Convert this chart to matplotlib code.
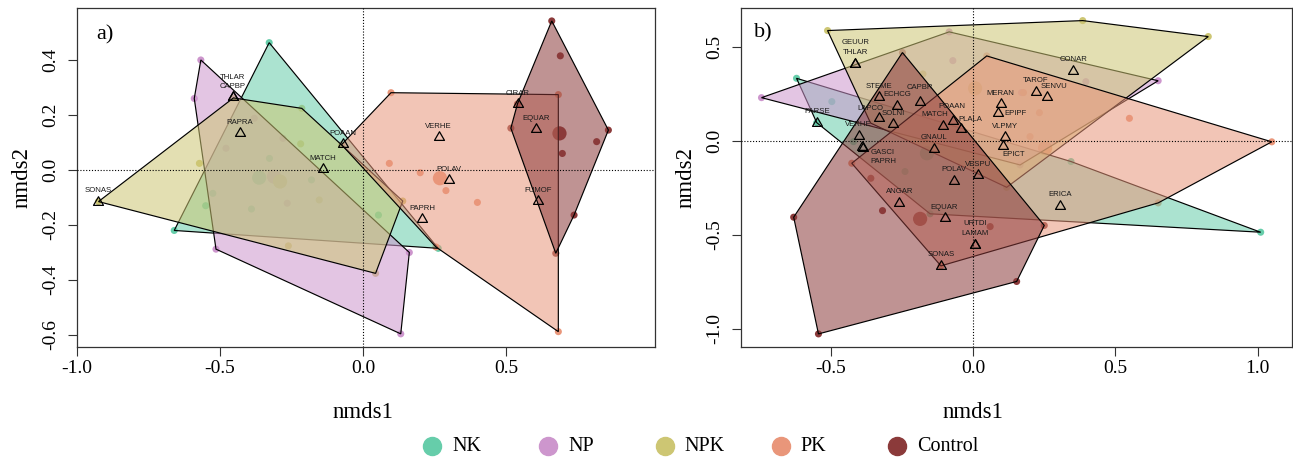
import matplotlib
matplotlib.use("Agg")
import matplotlib.pyplot as plt
from matplotlib.patches import Polygon
from matplotlib.path import Path
from matplotlib.lines import Line2D

W, H, DPI = 1293, 461, 100

groups = ["NK", "NP", "NPK", "PK", "Control"]
group_colors = ["#66CDAA", "#CD96CD", "#CDC673", "#E9967A", "#8B3A3A"]

# ---------------- panel a : site scores per treatment ----------------
a_nk_x = [-0.328, -0.660, 0.263, -0.550, -0.525, -0.390, -0.327, -0.180, 0.054]
a_nk_y = [0.463, -0.220, -0.285, -0.130, -0.085, -0.142, 0.042, -0.036, -0.164]
a_np_x = [-0.567, -0.590, -0.514, 0.132, 0.162, -0.479, -0.265, -0.380, -0.280]
a_np_y = [0.400, 0.260, -0.288, -0.596, -0.300, 0.079, -0.121, 0.188, 0.115]
a_npk_x = [-0.925, -0.453, -0.214, 0.139, 0.044, -0.218, -0.153, -0.261, -0.572]
a_npk_y = [-0.115, 0.262, 0.224, -0.113, -0.376, 0.095, -0.109, -0.276, 0.024]
a_pk_x = [0.098, 0.683, 0.683, 0.255, -0.075, 0.092, 0.200, 0.290, 0.400]
a_pk_y = [0.281, 0.274, -0.588, -0.280, 0.092, 0.024, -0.010, -0.075, -0.118]
a_ctl_x = [0.660, 0.690, 0.858, 0.817, 0.697, 0.738, 0.674, 0.517, 0.540]
a_ctl_y = [0.542, 0.415, 0.145, 0.103, 0.060, -0.164, -0.303, 0.152, 0.240]
a_cent_groups = ["NK", "NP", "NPK", "PK", "Control"]
a_cent_x = [-0.363, -0.311, -0.290, 0.269, 0.687]
a_cent_y = [-0.028, -0.024, -0.042, -0.030, 0.133]
a_species = ["THLAR", "CAPBP", "RAPRA", "POAAN", "MATCH", "SONAS",
             "CIRAR", "EQUAR", "VERHE", "POLAV", "FUMOF", "PAPRH"]
a_sp_x = [-0.456, -0.456, -0.430, -0.071, -0.139, -0.925,
          0.541, 0.604, 0.264, 0.300, 0.613, 0.206]
a_sp_y = [0.267, 0.267, 0.133, 0.093, 0.003, -0.115,
          0.239, 0.148, 0.119, -0.037, -0.113, -0.179]

# ---------------- panel b ----------------
b_nk_x = [-0.620, -0.549, -0.151, 1.010, 0.344, -0.496, -0.420, -0.239]
b_nk_y = [0.333, 0.097, -0.388, -0.486, -0.110, 0.209, -0.004, -0.163]
b_np_x = [-0.743, -0.084, 0.650, 0.165, -0.414, -0.071, 0.170, 0.396]
b_np_y = [0.230, 0.580, 0.320, -0.128, 0.405, 0.427, 0.257, 0.315]
b_npk_x = [-0.511, 0.385, 0.826, 0.118, -0.360, -0.176]
b_npk_y = [0.587, 0.640, 0.555, -0.247, 0.095, 0.356]
b_pk_x = [-0.426, 0.048, 1.049, 0.650, -0.113, 0.549, 0.233, 0.200, 0.177]
b_pk_y = [-0.119, 0.452, -0.005, -0.330, -0.665, 0.120, 0.150, 0.023, 0.257]
b_ctl_x = [-0.248, -0.630, -0.543, 0.153, 0.250, -0.318, 0.060, -0.359]
b_ctl_y = [0.470, -0.406, -1.027, -0.748, -0.450, -0.371, -0.456, -0.199]
b_cent_groups = ["NK", "NPK", "PK", "Control"]
b_cent_x = [-0.162, 0.007, 0.253, -0.186]
b_cent_y = [-0.066, 0.280, -0.039, -0.415]
b_species = ["GEUUR", "THLAR", "STEME", "ECHCG", "CAPBR", "LAPCO", "SOLNI",
             "PARSE", "VERHE", "GASCI", "PAPRH", "POAAN", "MATCH", "PLALA",
             "GNAUL", "MERAN", "EPIPF", "VLPMY", "EPICT", "POLAV", "VESPU",
             "ANGAR", "EQUAR", "URTDI", "LAMAM", "SONAS", "ERICA", "CONAR",
             "TAROF", "SENVU"]
b_sp_x = [-0.414, -0.414, -0.330, -0.268, -0.186, -0.329, -0.282,
          -0.549, -0.402, -0.390, -0.386, -0.071, -0.104, -0.042,
          -0.136, 0.097, 0.089, 0.112, 0.106, -0.066, 0.019,
          -0.259, -0.100, 0.007, 0.007, -0.113, 0.305, 0.352,
          0.220, 0.258]
b_sp_y = [0.410, 0.410, 0.233, 0.188, 0.206, 0.124, 0.089,
          0.097, 0.027, -0.034, -0.040, 0.106, 0.080, 0.062,
          -0.043, 0.195, 0.147, 0.018, -0.027, -0.213, -0.184,
          -0.328, -0.411, -0.553, -0.553, -0.665, -0.346, 0.374,
          0.262, 0.232]

# label offsets in pixels (layout only)
a_offsets = {"THLAR": (0, 19), "CAPBP": (0, 10.5)}
b_offsets = {"GEUUR": (0, 21), "THLAR": (0, 11), "URTDI": (0, 21), "LAMAM": (0, 11),
             "EPIPF": (17, 0), "EPICT": (10, -9), "GASCI": (21, -5), "PAPRH": (20, -13),
             "CAPBR": (0, 15), "LAPCO": (-9, 9), "SENVU": (7, 11), "POAAN": (-1, 14),
             "PLALA": (9, 10), "MATCH": (-9, 11)}

plt.rcParams["font.family"] = ["Liberation Serif", "DejaVu Serif"]

fig = plt.figure(figsize=(W / DPI, H / DPI), dpi=DPI)


def px_axes(left, right, top, bottom):
    return fig.add_axes([left / W, 1 - bottom / H, (right - left) / W, (bottom - top) / H])


def convex_hull(xs, ys):
    pts = sorted(set(zip(xs, ys)))
    def cross(o, a, b):
        return (a[0] - o[0]) * (b[1] - o[1]) - (a[1] - o[1]) * (b[0] - o[0])
    lower, upper = [], []
    for p in pts:
        while len(lower) >= 2 and cross(lower[-2], lower[-1], p) <= 0:
            lower.pop()
        lower.append(p)
    for p in reversed(pts):
        while len(upper) >= 2 and cross(upper[-2], upper[-1], p) <= 0:
            upper.pop()
        upper.append(p)
    return lower[:-1] + upper[:-1]


tri = Path([(0, 1.0), (-0.866, -0.5), (0.866, -0.5), (0, 1.0)],
           [Path.MOVETO, Path.LINETO, Path.LINETO, Path.CLOSEPOLY])


def draw_panel(ax, pts, cent_groups, cx, cy, species, sx, sy, offsets,
               xlim, ylim, xticks, yticks):
    cmap = dict(zip(groups, group_colors))
    for (xs, ys), c in zip(pts, group_colors):
        ax.scatter(xs, ys, s=26, color=c, edgecolors="none", zorder=2)
    for g, x, y in zip(cent_groups, cx, cy):
        ax.scatter([x], [y], s=105, color=cmap[g], edgecolors="none", zorder=2)
    for (xs, ys), c in zip(pts, group_colors):
        hull = convex_hull(xs, ys)
        ax.add_patch(Polygon(hull, closed=True, facecolor=matplotlib.colors.to_rgba(c, 0.55),
                             edgecolor="black", linewidth=0.85, zorder=3))
    ax.axhline(0, color="black", lw=0.8, ls=(0, (1, 1.6)), zorder=4)
    ax.axvline(0, color="black", lw=0.8, ls=(0, (1, 1.6)), zorder=4)
    ax.plot(sx, sy, linestyle="none", marker=tri, markersize=8.3, mfc="none",
            mec="black", mew=0.9, zorder=5)
    for name, x, y in zip(species, sx, sy):
        dx, dy = offsets.get(name, (0, 11))
        ax.annotate(name, (x, y), xytext=(dx, dy), textcoords="offset pixels",
                    ha="center", va="center", fontsize=5.6, color="#1a1a1a",
                    family=["Liberation Sans", "DejaVu Sans"], zorder=6)
    ax.set_xlim(*xlim)
    ax.set_ylim(*ylim)
    ax.set_xticks(xticks)
    ax.set_xticklabels([f"{t:.1f}" for t in xticks])
    ax.set_yticks(yticks)
    ax.set_yticklabels([f"{t:.1f}" for t in yticks], rotation=90, va="center")
    ax.tick_params(axis="both", direction="out", length=6.5, width=0.8,
                   color="#333333", labelsize=14)
    ax.tick_params(axis="x", pad=3)
    ax.tick_params(axis="y", pad=6)
    for sp in ax.spines.values():
        sp.set_color("#333333")
        sp.set_linewidth(0.9)


axa = px_axes(77, 655, 8, 346.5)
draw_panel(axa,
           [(a_nk_x, a_nk_y), (a_np_x, a_np_y), (a_npk_x, a_npk_y),
            (a_pk_x, a_pk_y), (a_ctl_x, a_ctl_y)],
           a_cent_groups, a_cent_x, a_cent_y, a_species, a_sp_x, a_sp_y, a_offsets,
           (-1.0, 1.021), (-0.642, 0.589),
           [-1.0, -0.5, 0.0, 0.5], [-0.6, -0.4, -0.2, 0.0, 0.2, 0.4])

axb = px_axes(741, 1292, 8, 346.5)
draw_panel(axb,
           [(b_nk_x, b_nk_y), (b_np_x, b_np_y), (b_npk_x, b_npk_y),
            (b_pk_x, b_pk_y), (b_ctl_x, b_ctl_y)],
           b_cent_groups, b_cent_x, b_cent_y, b_species, b_sp_x, b_sp_y, b_offsets,
           (-0.815, 1.12), (-1.094, 0.707),
           [-0.5, 0.0, 0.5, 1.0], [-1.0, -0.5, 0.0, 0.5])


def ftext(px, py, s, **kw):
    fig.text(px / W, 1 - py / H, s, ha="center", va="center", **kw)


ftext(105, 35, "a)", fontsize=16)
ftext(763, 33, "b)", fontsize=16)
ftext(363, 412, "nmds1", fontsize=16.5)
ftext(973, 412, "nmds1", fontsize=16.5)
ftext(22, 177, "nmds2", fontsize=16.5, rotation=90)
ftext(686, 177, "nmds2", fontsize=16.5, rotation=90)

# legend
for i, (g, c) in enumerate(zip(groups, group_colors)):
    cxp = 432 + i * 116.3
    fig.add_artist(Line2D([cxp / W], [1 - 446 / H], transform=fig.transFigure,
                          marker="o", markersize=13, color=c, linestyle="none"))
    fig.text((cxp + 20) / W, 1 - 446 / H, g, ha="left", va="center", fontsize=14.5)

fig.savefig("out.png", dpi=DPI)
